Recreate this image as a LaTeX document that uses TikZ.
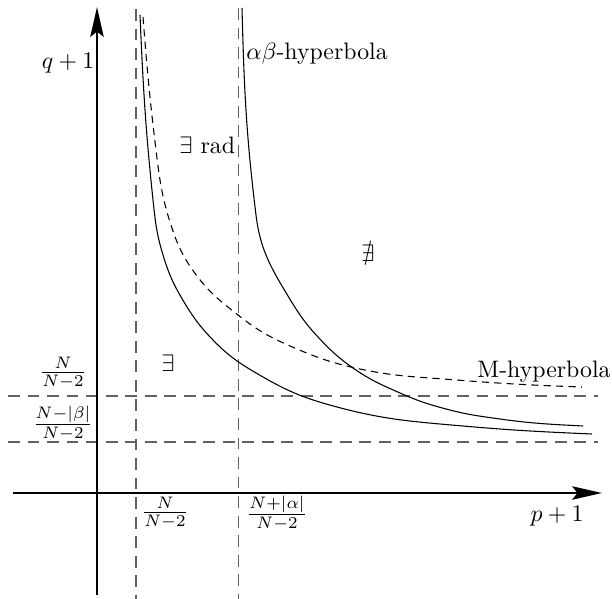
\documentclass[tikz,border=0pt]{standalone}
\usepackage{amsmath,amssymb}
\usetikzlibrary{arrows.meta}
\begin{document}
\begin{tikzpicture}[x=0.42pt,y=-0.42pt,
  axis/.style={line width=1.1pt,-{Stealth[length=12.5pt,width=5.6pt,inset=2.2pt]}},
  guide/.style={line width=0.55pt,black!62,dash pattern=on 5pt off 3.2pt},
  curve/.style={line width=0.45pt},
  mcurve/.style={line width=0.45pt,dash pattern=on 3pt off 2.2pt},
  lab/.style={inner sep=0pt,font=\normalsize}]
\useasboundingbox (0,0) rectangle (612,599);
% guide lines
\coordinate (v1t) at (136,9);   \coordinate (v1b) at (136,599);
\coordinate (v2t) at (238.5,8); \coordinate (v2b) at (238.5,599);
\coordinate (h1l) at (8,396);   \coordinate (h1r) at (598,396);
\coordinate (h2l) at (8,442);   \coordinate (h2r) at (598,442);
\draw[guide] (v1t) -- (v1b);
\draw[guide] (v2t) -- (v2b);
\draw[guide] (h1l) -- (h1r);
\draw[guide] (h2l) -- (h2r);
% axes
\coordinate (xs) at (13,493);  \coordinate (xe) at (602,493);
\coordinate (ys) at (97,595);  \coordinate (ye) at (97,7);
\draw[axis] (xs) -- (xe);
\draw[axis] (ys) -- (ye);
% inner solid hyperbola
\draw[curve] (140,15) to[out=-87.5,in=96] (153,200) to[out=-84,in=107] (163,255)
  to[out=-73,in=121] (184,302) to[out=-59,in=134] (213,340)
  to[out=-46,in=150] (263,377) to[out=-30,in=165] (337,407)
  to[out=-15,in=175] (463,426) to[out=-5,in=177.5] (592,434);
% M-hyperbola (dashed)
\draw[mcurve] (143,17) to[out=-85.5,in=97] (156,150) to[out=-83,in=107.5] (170,222)
  to[out=-72.5,in=127] (197,276) to[out=-53,in=141.5] (238,315)
  to[out=-38.5,in=157] (297,349) to[out=-23,in=168] (360,369)
  to[out=-12,in=175.5] (450,379.5) to[out=-4.5,in=178] (582,387);
% alpha-beta hyperbola
\draw[curve] (242,8) to[out=-88.5,in=97] (256,215) to[out=-83,in=121] (285,291)
  to[out=-59,in=133] (318,337) to[out=-47,in=145] (353,368)
  to[out=-35,in=156] (400,393) to[out=-24,in=165.5] (450,410)
  to[out=-14.5,in=172] (500,419) to[out=-8,in=177] (583,426);
% labels
\node[lab] (qlab) at (68,63) {$q+1$};
\node[lab] (plab) at (557,516) {$p+1$};
\node[lab,anchor=base west] (ablab) at (246,59) {$\alpha\beta$-hyperbola};
\node[lab,anchor=base east] (mlab) at (611,377) {M-hyperbola};
\node[lab,anchor=base west] (radlab) at (179,153) {$\exists$ rad};
\node[lab] (nex) at (368,253) {$\nexists$};
\node[lab] (ex) at (168,363) {$\exists$};
\node[lab] (fy1) at (63,373) {$\frac{N}{N-2}$};
\node[lab] (fy2) at (63,423) {$\frac{N-|\beta|}{N-2}$};
\node[lab] (fx1) at (165,513) {$\frac{N}{N-2}$};
\node[lab] (fx2) at (277,513) {$\frac{N+|\alpha|}{N-2}$};
\end{tikzpicture}
\end{document}
